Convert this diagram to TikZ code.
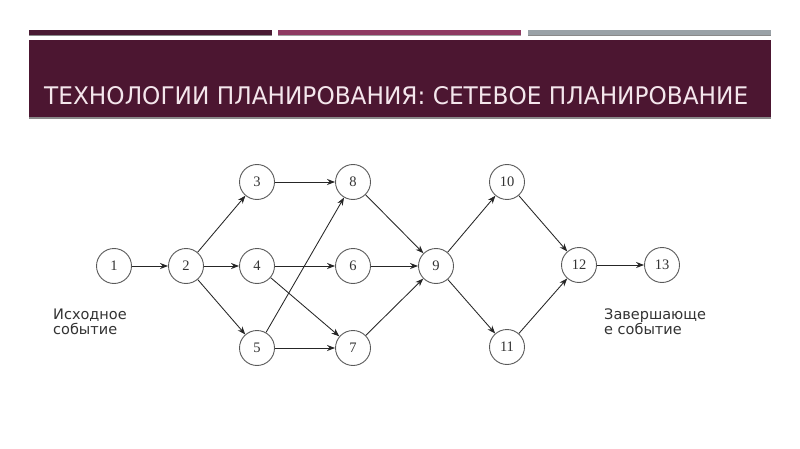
\documentclass[tikz,border=0pt]{standalone}
\usepackage{fontspec}
\setmainfont{DejaVu Sans}
\newfontfamily\numfont{Liberation Serif}
\usetikzlibrary{arrows.meta}
\definecolor{wine}{HTML}{4C1631}
\definecolor{winebar}{HTML}{4A1A33}
\definecolor{pinkbar}{HTML}{8E3A62}
\definecolor{greybar}{HTML}{9AA2A7}
\definecolor{shadowgrey}{HTML}{8A8A8A}
\definecolor{titletext}{HTML}{F4E6EC}
\definecolor{circlegrey}{HTML}{5A5A5A}
\definecolor{edgegrey}{HTML}{262626}
\definecolor{labeltext}{HTML}{333333}
\tikzset{
  event/.style={circle, draw=circlegrey, line width=0.9pt, fill=white,
    minimum size=35pt, inner sep=0pt, font=\numfont\fontsize{14.5}{14.5}\selectfont, text=black!80},
  link/.style={draw=edgegrey, line width=0.85pt, -{Stealth[length=8pt,width=6pt]}},
  caption/.style={align=left, anchor=base west, inner sep=0pt, text=labeltext,
    font=\fontsize{14.5}{15}\selectfont}
}
\begin{document}
\begin{tikzpicture}[x=1pt,y=-1pt]
\useasboundingbox (0,0) rectangle (800,449);
\fill[white] (0,0) rectangle (800,449);
% top bars
\fill[winebar] (29,30) rectangle (272,35);
\fill[shadowgrey] (29,35) rectangle (272,36.5);
\fill[pinkbar] (278,30) rectangle (521,35);
\fill[shadowgrey!80] (278,35) rectangle (521,36.5);
\fill[greybar] (528,30) rectangle (771,35);
\fill[shadowgrey] (528,35) rectangle (771,36.5);
% title box
\fill[wine] (29,40) rectangle (771,117);
\fill[shadowgrey] (29,117) rectangle (771,119.5);
\node[anchor=south west, inner sep=0pt, text=titletext] (title) at (44,105)
  {\resizebox{704pt}{18pt}{\fontspec{DejaVu Sans}ТЕХНОЛОГИИ ПЛАНИРОВАНИЯ: СЕТЕВОЕ ПЛАНИРОВАНИЕ}};
% events
\node[event] (n1) at (114,266) {1};
\node[event] (n2) at (186,266) {2};
\node[event] (n3) at (257,182) {3};
\node[event] (n4) at (257,266) {4};
\node[event] (n5) at (257,348) {5};
\node[event] (n8) at (353,182) {8};
\node[event] (n6) at (353,266) {6};
\node[event] (n7) at (353,348) {7};
\node[event] (n9) at (436,266) {9};
\node[event] (n10) at (507,182) {10};
\node[event] (n11) at (507,347) {11};
\node[event] (n12) at (579,265) {12};
\node[event] (n13) at (662,265) {13};
% links
\draw[link] (n1) -- (n2);
\draw[link] (n2) -- (n3);
\draw[link] (n2) -- (n4);
\draw[link] (n2) -- (n5);
\draw[link] (n3) -- (n8);
\draw[link] (n4) -- (n6);
\draw[link] (n4) -- (n7);
\draw[link] (n5) -- (n8);
\draw[link] (n5) -- (n7);
\draw[link] (n8) -- (n9);
\draw[link] (n6) -- (n9);
\draw[link] (n7) -- (n9);
\draw[link] (n9) -- (n10);
\draw[link] (n9) -- (n11);
\draw[link] (n10) -- (n12);
\draw[link] (n11) -- (n12);
\draw[link] (n12) -- (n13);
% captions
\node[caption] (start) at (53,334) {Исходное\\событие};
\node[caption] (finish) at (604,334) {Завершающе\\е событие};
\end{tikzpicture}
\end{document}
